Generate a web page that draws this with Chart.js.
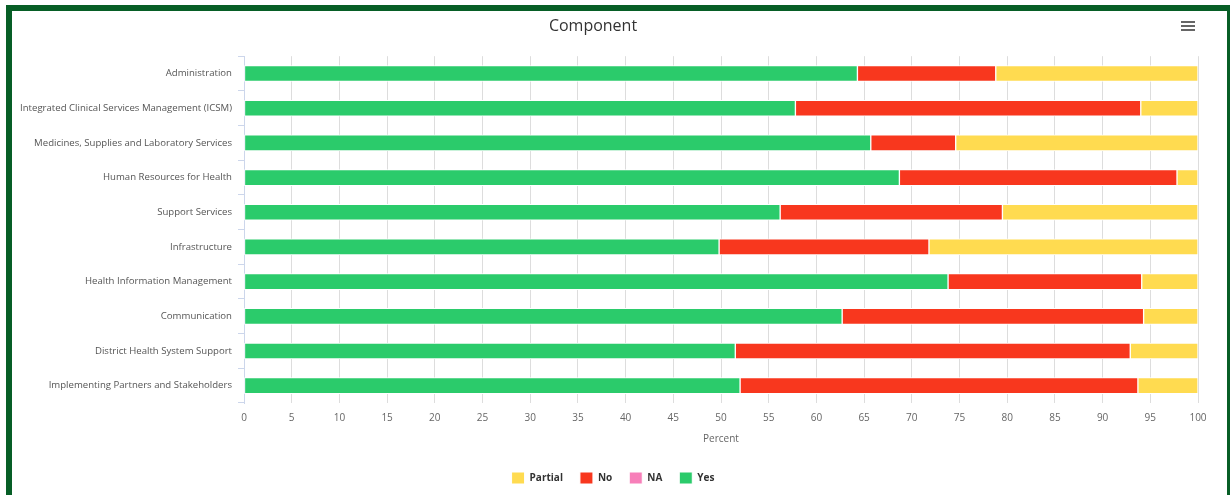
<!DOCTYPE html>
<html>
<head>
<meta charset="utf-8">
<script src="https://cdn.jsdelivr.net/npm/chart.js@4"></script>
<style>
    html, body { margin: 0; padding: 0; background: #fff; overflow: hidden; }
    #frame {
        position: absolute; left: 6px; top: 5px;
        width: 1215px; height: 500px;
        border: 6px solid #075e26;
        background: #fff;
    }
    #wrap { position: absolute; left: 0; top: 0; width: 1215px; height: 484px; }
    #menu { position: absolute; left: 1169px; top: 10px; width: 14px; }
    #menu div { height: 2px; background: #666; margin-bottom: 2px; }
</style>
</head>
<body>
<div id="frame">
    <div id="wrap"><canvas id="chart"></canvas></div>
    <div id="menu"><div></div><div></div><div></div></div>
</div>
<script>
const categories = [
    "Administration",
    "Integrated Clinical Services Management (ICSM)",
    "Medicines, Supplies and Laboratory Services",
    "Human Resources for Health",
    "Support Services",
    "Infrastructure",
    "Health Information Management",
    "Communication",
    "District Health System Support",
    "Implementing Partners and Stakeholders"
];
const yesValues = [64.3, 57.8, 65.7, 68.7, 56.2, 49.8, 73.8, 62.7, 51.5, 52.0];
const naValues = [0, 0, 0, 0, 0, 0, 0, 0, 0, 0];
const noValues = [14.5, 36.2, 8.9, 29.1, 23.3, 22.0, 20.3, 31.6, 41.4, 41.7];
const partialValues = [21.2, 6.0, 25.4, 2.2, 20.5, 28.2, 5.9, 5.7, 7.1, 6.3];
const xTicks = [0, 5, 10, 15, 20, 25, 30, 35, 40, 45, 50, 55, 60, 65, 70, 75, 80, 85, 90, 95, 100];

const FONT = "'Open Sans', 'DejaVu Sans', sans-serif";

function bar(label, data, color) {
    return {
        label: label,
        data: data,
        backgroundColor: color,
        borderColor: "#ffffff",
        borderWidth: 1,
        borderSkipped: false,
        barThickness: 16
    };
}

// title sits a bit left of centre, legend a bit right of it
const nudgeBoxes = {
    id: "nudgeBoxes",
    afterLayout(chart) {
        if (chart.titleBlock) {
            chart.titleBlock.left -= 12;
            chart.titleBlock.right -= 12;
        }
        if (chart.legend) {
            chart.legend.left += 8;
            chart.legend.right += 8;
        }
    }
};

new Chart("chart", {
    type: "bar",
    data: {
        labels: categories,
        datasets: [
            bar("Yes", yesValues, "#2bcb6b"),
            bar("NA", naValues, "#f77fb9"),
            bar("No", noValues, "#f8371e"),
            bar("Partial", partialValues, "#ffdb50")
        ]
    },
    plugins: [nudgeBoxes],
    options: {
        indexAxis: "y",
        responsive: true,
        maintainAspectRatio: false,
        animation: false,
        layout: { padding: { left: 0, right: 29, top: 3, bottom: 1 } },
        scales: {
            x: {
                stacked: true,
                min: 0,
                max: 100,
                afterBuildTicks: (scale) => { scale.ticks = xTicks.map(v => ({ value: v })); },
                afterFit: (scale) => { scale.height = 52; },
                grid: { color: "#dddddd", drawTicks: false },
                border: { display: false },
                ticks: { color: "#666", padding: 9, font: { family: FONT, size: 10 } },
                title: {
                    display: true,
                    text: "Percent",
                    color: "#666",
                    font: { family: FONT, size: 10 },
                    padding: { top: 0, bottom: 10 }
                }
            },
            y: {
                stacked: true,
                afterFit: (scale) => { scale.width = 232; },
                grid: { drawOnChartArea: false, drawTicks: true, tickLength: 6, color: "#ccd6eb" },
                border: { color: "#ccd6eb" },
                ticks: { color: "#555", padding: 6, font: { family: FONT, size: 9.6 } }
            }
        },
        plugins: {
            title: {
                display: true,
                text: "Component",
                color: "#333",
                font: { family: FONT, size: 16, weight: "normal" },
                padding: { top: 3, bottom: 20 }
            },
            legend: {
                position: "bottom",
                reverse: true,
                labels: {
                    boxWidth: 13,
                    boxHeight: 12,
                    padding: 17,
                    color: "#333",
                    font: { family: FONT, size: 10, weight: "bold" }
                }
            },
            tooltip: { enabled: false }
        }
    }
});
</script>
</body>
</html>
